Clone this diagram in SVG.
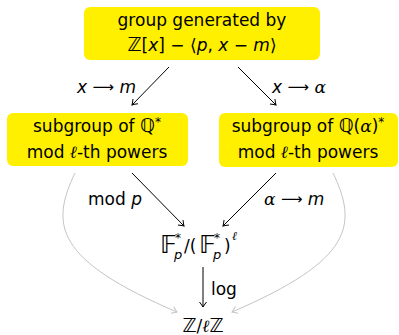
<svg xmlns="http://www.w3.org/2000/svg" width="399" height="335" viewBox="0 0 399 335">
<style>
.box{fill:#fff000;stroke:none}
.t{font-family:"DejaVu Sans","Liberation Sans",sans-serif;font-size:17px;fill:#000;text-anchor:middle}
.l{font-family:"DejaVu Sans","Liberation Sans",sans-serif;font-size:17px;fill:#000}
.i{font-style:italic}
.s{font-family:"DejaVu Serif","Liberation Serif",serif;font-style:italic}
.bb{font-size:19px}
.bf{font-size:25px}
.ar{font-size:15px}
.e{stroke:#000;stroke-width:1;fill:none;marker-end:url(#ah)}
.g{stroke:#c4c4c4;stroke-width:1;fill:none;marker-end:url(#ahg)}
</style>
<defs>
<marker id="ah" markerUnits="userSpaceOnUse" viewBox="-7 -5 8 10" refX="0" refY="0" markerWidth="8" markerHeight="10" orient="auto">
<path d="M-5,-3.5 Q-1.5,-0.8 0,0 Q-1.5,0.8 -5,3.5" fill="none" stroke="#000" stroke-width="1"/>
</marker>
<marker id="ahg" markerUnits="userSpaceOnUse" viewBox="-7 -5 8 10" refX="0" refY="0" markerWidth="8" markerHeight="10" orient="auto">
<path d="M-5,-3.5 Q-1.5,-0.8 0,0 Q-1.5,0.8 -5,3.5" fill="none" stroke="#c4c4c4" stroke-width="1"/>
</marker>
</defs>
<g id="top">
<rect class="box" x="84" y="7" width="236" height="53" rx="6"/>
<text class="t" x="202" y="26">group generated by</text>
<text class="t" x="202" y="51"><tspan class="bb">ℤ</tspan>[<tspan class="i">x</tspan>] − ⟨<tspan class="i">p</tspan>, <tspan class="i">x</tspan> − <tspan class="i">m</tspan>⟩</text>
</g>
<g id="left">
<rect class="box" x="7" y="113" width="181" height="53" rx="6"/>
<text class="t" x="97" y="132">subgroup of <tspan class="bb">ℚ</tspan><tspan font-size="12" dy="-6">*</tspan></text>
<text class="t" x="97" y="158">mod <tspan class="s">ℓ</tspan>-th powers</text>
</g>
<g id="right">
<rect class="box" x="219" y="113" width="179" height="54" rx="6"/>
<text class="t" x="308" y="132">subgroup of <tspan class="bb">ℚ</tspan>(<tspan class="s">α</tspan>)<tspan font-size="12" dy="-6">*</tspan></text>
<text class="t" x="308" y="158">mod <tspan class="s">ℓ</tspan>-th powers</text>
</g>
<g id="fp">
<text class="l"><tspan class="bf" x="160" y="253">𝔽</tspan><tspan font-size="12" x="175" y="242">*</tspan><tspan class="i" font-size="13" x="174" y="259">p</tspan><tspan x="184" y="252">/(</tspan><tspan class="bf" x="199" y="253">𝔽</tspan><tspan font-size="12" x="214" y="242">*</tspan><tspan class="i" font-size="13" x="213" y="259">p</tspan><tspan x="224" y="252">)</tspan><tspan class="s" font-size="12" x="232" y="240">ℓ</tspan></text>
</g>
<g id="zl">
<text class="t" x="203" y="332"><tspan class="bb">ℤ</tspan>/<tspan class="s">ℓ</tspan><tspan class="bb">ℤ</tspan></text>
</g>
<g id="connectors">
<line class="e" x1="169" y1="67" x2="132" y2="105"/>
<line class="e" x1="238" y1="67" x2="276" y2="105"/>
<line class="e" x1="132" y1="173" x2="184" y2="226"/>
<line class="e" x1="276" y1="173" x2="223" y2="226"/>
<line class="e" x1="203" y1="267" x2="203" y2="307"/>
<path class="g" d="M75,173 C50,225 55,260 177,312"/>
<path class="g" d="M333,173 C358,225 353,260 232,312"/>
<text class="l" x="77" y="93"><tspan class="i">x</tspan> <tspan class="ar" dy="-1">⟶</tspan> <tspan class="i" dy="1">m</tspan></text>
<text class="l" x="272" y="93"><tspan class="i">x</tspan> <tspan class="ar" dy="-1">⟶</tspan> <tspan class="s" dy="1">α</tspan></text>
<text class="l" x="88" y="205">mod <tspan class="i">p</tspan></text>
<text class="l" x="264" y="205"><tspan class="s">α</tspan> <tspan class="ar" dy="-1">⟶</tspan> <tspan class="i" dy="1">m</tspan></text>
<text class="l" x="211" y="295">log</text>
</g>
</svg>
